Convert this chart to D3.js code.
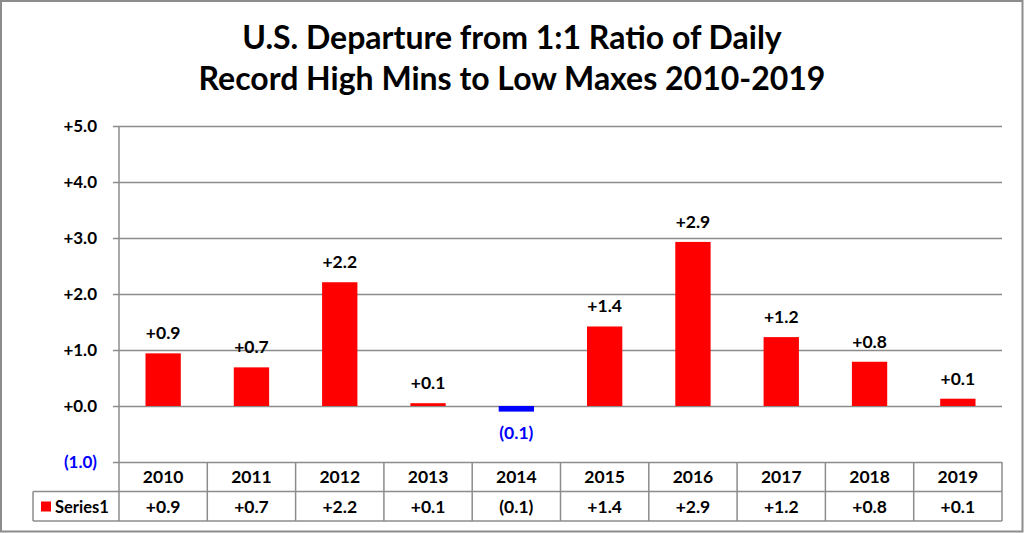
<!DOCTYPE html>
<html><head><meta charset="utf-8">
<script src="https://cdn.jsdelivr.net/npm/d3@7"></script>
<style>body{margin:0;background:#fff}svg{display:block}</style>
</head><body>
<svg id="c" width="1024" height="533"></svg>
<script>
const titleLines = ["U.S. Departure from 1:1 Ratio of Daily", "Record High Mins to Low Maxes 2010-2019"];
const categories = ["2010","2011","2012","2013","2014","2015","2016","2017","2018","2019"];
const values = [0.94, 0.69, 2.21, 0.05, -0.10, 1.42, 2.93, 1.23, 0.79, 0.13];
const yTicks = [-1, 0, 1, 2, 3, 4, 5];
const seriesName = "Series1";

const fmt = v => v < 0 ? "(" + Math.abs(v).toFixed(1) + ")" : "+" + v.toFixed(1);
const font = "Lato, 'Open Sans', sans-serif";
const svg = d3.select("#c");
const L = 119, R = 1002, T = 126, B = 462;
const gridC = "#8c8c8c";

svg.append("rect").attr("x",1).attr("y",1).attr("width",1021.5).attr("height",530.5)
  .attr("fill","#fff").attr("stroke","#8c8c8c").attr("stroke-width",2);

const title = svg.append("g").attr("font-family",font).attr("font-weight","bold")
  .attr("font-size",32).attr("text-anchor","middle").attr("fill","#000");
titleLines.forEach((t,i)=> title.append("text").attr("x",512).attr("y",49+i*41).text(t));

const x = d3.scaleBand().domain(categories).range([L,R]).paddingInner(0.6).paddingOuter(0.3);
const xc = d3.scaleBand().domain(categories).range([L,R]);
const y = d3.scaleLinear().domain([-1,5]).range([B,T]);

// gridlines
const yAxis = d3.axisLeft(y).tickValues(yTicks).tickSize(-(R-L)).tickFormat(fmt);
const ga = svg.append("g").attr("transform",`translate(${L},0)`).call(yAxis);
ga.select(".domain").remove();
ga.selectAll(".tick line").attr("stroke",gridC).attr("stroke-width",1.5).attr("x1",-6);
ga.selectAll(".tick text").attr("x",-22).attr("font-family",font).attr("font-weight","bold")
  .attr("font-size",17).attr("fill",d=>d<0?"#0000ff":"#000");
svg.append("line").attr("x1",L).attr("x2",L).attr("y1",T).attr("y2",B).attr("stroke",gridC).attr("stroke-width",1.5);

// bars
svg.append("g").selectAll("rect").data(values).join("rect")
  .attr("x",(d,i)=>x(categories[i])).attr("width",x.bandwidth())
  .attr("y",d=>y(Math.max(0,d))).attr("height",d=>Math.abs(y(d)-y(0)))
  .attr("fill",d=>d<0?"#0000ff":"#ff0000");

// data labels
svg.append("g").selectAll("text").data(values).join("text")
  .attr("x",(d,i)=>xc(categories[i])+xc.bandwidth()/2)
  .attr("y",d=>d<0? y(d)+27 : y(d)-14)
  .attr("text-anchor","middle").attr("font-family",font).attr("font-weight","bold").attr("font-size",17.5)
  .attr("fill",d=>d<0?"#0000ff":"#000").text(fmt);

// data table
const rowH = 29.5, tL = 33;
const tb = svg.append("g").attr("stroke",gridC).attr("stroke-width",1.5);
tb.append("line").attr("x1",tL).attr("x2",R).attr("y1",B+rowH).attr("y2",B+rowH);
tb.append("line").attr("x1",tL).attr("x2",R).attr("y1",B+2*rowH).attr("y2",B+2*rowH);
tb.append("line").attr("x1",tL).attr("x2",tL).attr("y1",B+rowH).attr("y2",B+2*rowH);
tb.append("line").attr("x1",L).attr("x2",L).attr("y1",B).attr("y2",B+2*rowH);
tb.selectAll(".v").data(categories).join("line")
  .attr("x1",d=>xc(d)+xc.bandwidth()).attr("x2",d=>xc(d)+xc.bandwidth())
  .attr("y1",B).attr("y2",B+2*rowH);

const tt = svg.append("g").attr("font-family",font).attr("font-weight","bold").attr("font-size",17.5)
  .attr("text-anchor","middle").attr("fill","#000");
tt.selectAll(".c").data(categories).join("text")
  .attr("x",d=>xc(d)+xc.bandwidth()/2).attr("y",B+21).text(d=>d);
tt.selectAll(".v").data(values).join("text")
  .attr("x",(d,i)=>xc(categories[i])+xc.bandwidth()/2).attr("y",B+rowH+21).text(fmt);
svg.append("rect").attr("x",41).attr("y",B+rowH+10).attr("width",10).attr("height",10).attr("fill","#ff0000");
svg.append("text").attr("x",55).attr("y",B+rowH+21).attr("font-family",font).attr("font-weight","bold")
  .attr("font-size",16.5).text(seriesName);
</script>
</body></html>
